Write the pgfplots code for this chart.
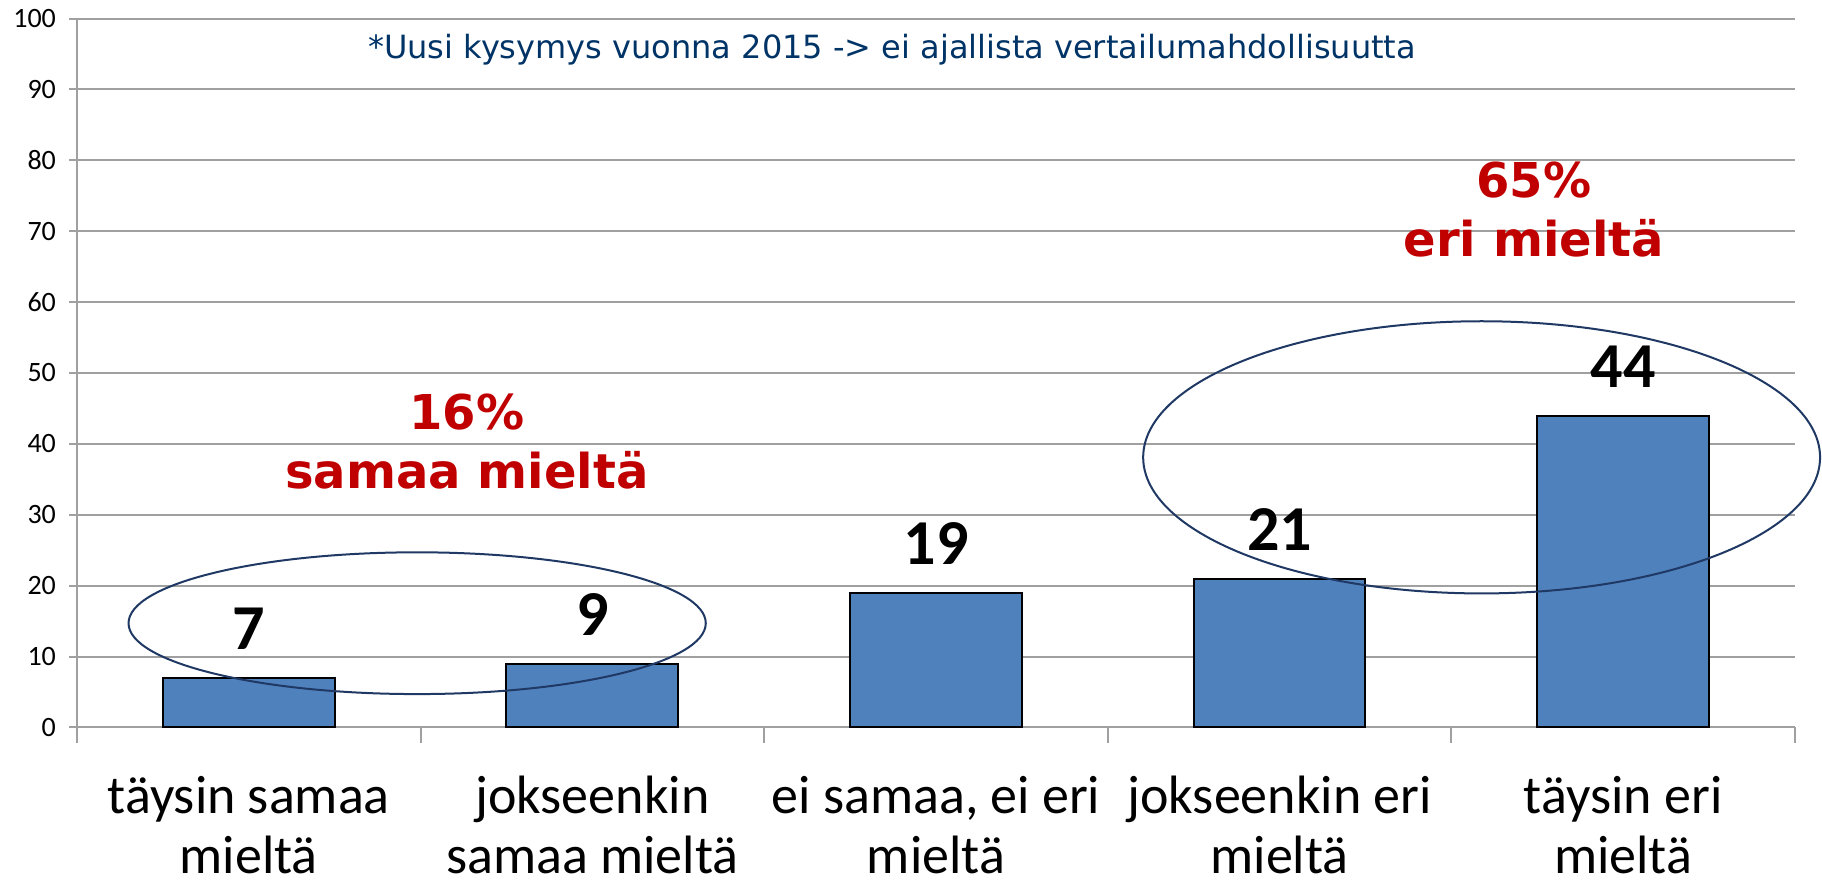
\documentclass[border=0pt]{standalone}
\usepackage{pgfplots}
\pgfplotsset{compat=1.18}
\usepackage{fontspec}
\setmainfont{Carlito}
\newfontfamily\verd{DejaVu Sans}
\definecolor{barblue}{HTML}{4F81BD}
\definecolor{darkred}{HTML}{C00000}
\definecolor{navy}{HTML}{1F3864}
\definecolor{notecol}{HTML}{003366}
\definecolor{gridgray}{HTML}{A0A0A0}
\begin{document}
\begin{tikzpicture}
\begin{axis}[
  at={(0,0)}, anchor=south west,
  scale only axis, width=859pt, height=354.4pt,
  xmin=-0.5, xmax=4.5, ymin=0, ymax=100,
  clip=false,
  axis lines=left, axis line style={-, draw=gridgray, line width=1pt},
  ytick={0,10,...,100},
  ymajorgrids, grid style={gridgray, line width=1pt},
  xtick={0,1,2,3,4},
  xticklabels={{täysin samaa\\mieltä},{jokseenkin\\samaa mieltä},{ei samaa, ei eri\\mieltä},{jokseenkin eri\\mieltä},{täysin eri\\mieltä}},
  minor xtick={-0.5,0.5,1.5,2.5,3.5,4.5},
  major x tick style={draw=none},
  minor x tick style={draw=gridgray, line width=1pt},
  major y tick style={draw=gridgray, line width=1pt},
  tick align=outside,
  major tick length=4pt, minor tick length=8pt,
  /pgf/number format/assume math mode=true,
  xticklabel style={font=\fontsize{27}{30}\selectfont, align=center, text=black, yshift=-17pt},
  yticklabel style={font=\fontsize{14}{16}\selectfont, text=black, xshift=-3pt},
]
\addplot[ybar, bar width=0.5, fill=barblue, draw=black, line width=1pt,
  nodes near coords={\pgfmathprintnumber[assume math mode=true]{\pgfplotspointmeta}},
  nodes near coords style={font=\bfseries\fontsize{32}{36}\selectfont, anchor=base, yshift=14pt, text=black}]
  coordinates {(0,7) (1,9) (2,19) (3,21) (4,44)};
\draw[navy, line width=1pt] (axis cs:0.49,14.7) ellipse [x radius=0.84, y radius=10];
\draw[navy, line width=1pt] (axis cs:3.588,38.1) ellipse [x radius=0.985, y radius=19.2];
\node[font=\verd\bfseries\fontsize{24}{29.5}\selectfont, text=darkred, align=center] at (axis cs:0.635,40.3) {16\%\\samaa mieltä};
\node[font=\verd\bfseries\fontsize{24}{29.5}\selectfont, text=darkred, align=center] at (axis cs:3.74,73) {65\%\\eri mieltä};
\node[font=\verd\fontsize{16}{19}\selectfont, text=notecol] at (axis cs:1.872,95.6) {*Uusi kysymys vuonna 2015 -> ei ajallista vertailumahdollisuutta};
\end{axis}
\pgfresetboundingbox
\path (-38.5pt,-76.8pt) rectangle (872.5pt,363.7pt);
\end{tikzpicture}
\end{document}
